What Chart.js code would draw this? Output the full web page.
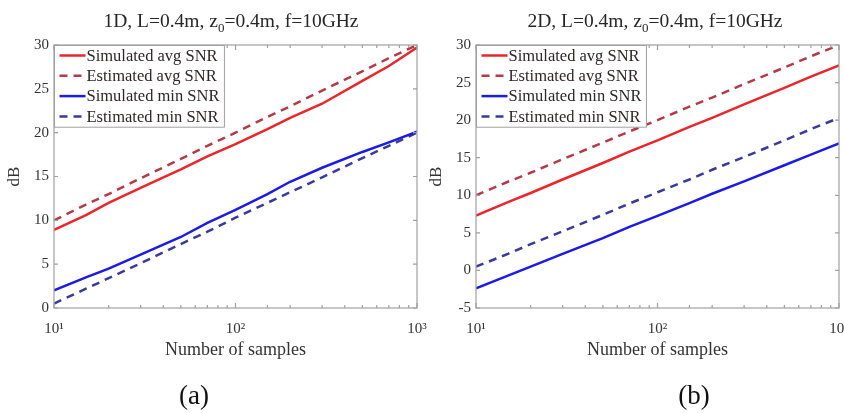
<!DOCTYPE html>
<html>
<head>
<meta charset="utf-8">
<script src="https://cdn.jsdelivr.net/npm/chart.js@4.4.1/dist/chart.umd.min.js"></script>
<style>
  body { margin: 0; background: #fff; width: 844px; height: 413px; position: relative; overflow: hidden; font-family: "Liberation Serif", serif; color: #262626; }
  .panel { position: absolute; top: 0; height: 413px; }
  .title { position: absolute; top: 10px; font-size: 19.5px; line-height: 22px; white-space: nowrap; transform: translateX(-50%); }
  .title sub { font-size: 13px; vertical-align: -5px; line-height: 0; }
  .cap { position: absolute; top: 379px; font-size: 27px; line-height: 32px; white-space: nowrap; transform: translateX(-50%); color: #111; }
</style>
</head>
<body>
<div class="panel" style="left:0;width:432px"><canvas id="c1"></canvas></div>
<div class="panel" style="left:422px;width:422px"><canvas id="c2"></canvas></div>
<div class="title" style="left:231px">1D, L=0.4m, z<sub>0</sub>=0.4m, f=10GHz</div>
<div class="title" style="left:655px">2D, L=0.4m, z<sub>0</sub>=0.4m, f=10GHz</div>
<div class="cap" style="left:194px">(a)</div>
<div class="cap" style="left:694px">(b)</div>
<script>
// number of samples (x, log scale)
const samples = [10, 15, 20, 30, 50, 70, 100, 150, 200, 300, 500, 700, 1000];
const xTickValues = [10, 100, 1000];
const xTickLabels = ["10\u00b9", "10\u00b2", "10\u00b3"];
const seriesNames = ["Simulated avg SNR", "Estimated avg SNR", "Simulated min SNR", "Estimated min SNR"];

// (a) 1D
const simAvg1D = [8.9, 10.6, 12.0, 13.7, 15.8, 17.3, 18.7, 20.4, 21.7, 23.3, 25.9, 27.6, 29.7];
const estAvg1D = [10.0, 11.8, 13.0, 14.8, 17.0, 18.5, 20.0, 21.8, 23.0, 24.8, 27.0, 28.5, 30.0];
const simMin1D = [2.0, 3.5, 4.5, 6.1, 8.1, 9.7, 11.2, 13.0, 14.4, 16.0, 17.8, 18.9, 20.1];
const estMin1D = [0.5, 2.2, 3.4, 5.1, 7.3, 8.7, 10.3, 12.0, 13.2, 14.9, 17.1, 18.5, 20.0];

// (b) 2D
const simAvg2D = [7.3, 9.1, 10.3, 12.1, 14.3, 15.8, 17.3, 19.1, 20.3, 22.1, 24.3, 25.8, 27.3];
const estAvg2D = [10.0, 11.8, 13.0, 14.8, 17.0, 18.5, 20.0, 21.8, 23.0, 24.8, 27.0, 28.5, 30.0];
const simMin2D = [-2.4, -0.7, 0.5, 2.2, 4.3, 5.8, 7.25, 8.95, 10.2, 11.85, 14.0, 15.4, 16.9];
const estMin2D = [0.5, 2.2, 3.5, 5.2, 7.4, 8.9, 10.4, 12.1, 13.4, 15.1, 17.3, 18.8, 20.3];

const RED = "#e8262c", RED_D = "#b43a48", BLUE = "#1c1ce0", BLUE_D = "#3a3a9c";
const GRAY = "#a0a0a0";

// axes box with inward ticks on all four sides
const frame = {
  id: "frame",
  afterDatasetsDraw(chart) {
    const { ctx, chartArea: a, scales: { x, y } } = chart;
    ctx.save();
    ctx.strokeStyle = GRAY;
    ctx.lineWidth = 1.2;
    ctx.strokeRect(a.left, a.top, a.right - a.left, a.bottom - a.top);
    ctx.beginPath();
    x.ticks.forEach(t => {
      const px = x.getPixelForValue(t.value);
      const len = xTickValues.includes(t.value) ? 5 : 3;
      ctx.moveTo(px, a.bottom); ctx.lineTo(px, a.bottom - len);
      ctx.moveTo(px, a.top); ctx.lineTo(px, a.top + len);
    });
    y.ticks.forEach(t => {
      const py = y.getPixelForValue(t.value);
      ctx.moveTo(a.left, py); ctx.lineTo(a.left + 4, py);
      ctx.moveTo(a.right, py); ctx.lineTo(a.right - 4, py);
    });
    ctx.stroke();
    ctx.restore();
  }
};

// legend drawn inside the plot, upper left
const boxLegend = {
  id: "boxLegend",
  afterDraw(chart) {
    const { ctx, chartArea: a } = chart;
    const sets = chart.data.datasets;
    ctx.save();
    ctx.font = '16.5px "Liberation Serif"';
    const textW = Math.max(...sets.map(d => ctx.measureText(d.label).width));
    const x0 = a.left + 0.5, y0 = a.top + 0.5, rowH = 20.3;
    const w = 32 + textW + 5, h = rowH * sets.length + 0.5;
    ctx.fillStyle = "#fff";
    ctx.fillRect(x0, y0, w, h);
    ctx.strokeStyle = GRAY;
    ctx.lineWidth = 1;
    ctx.strokeRect(x0, y0, w, h);
    sets.forEach((d, i) => {
      const yy = y0 + 10 + i * rowH;
      ctx.strokeStyle = d.borderColor;
      ctx.lineWidth = d.borderWidth;
      ctx.setLineDash(d.borderDash || []);
      ctx.beginPath();
      ctx.moveTo(x0 + 5, yy);
      ctx.lineTo(x0 + 31, yy);
      ctx.stroke();
      ctx.setLineDash([]);
      ctx.fillStyle = "#2e2626";
      ctx.textBaseline = "middle";
      ctx.fillText(d.label, x0 + 32, yy + 1);
    });
    ctx.restore();
  }
};

function ds(label, values, color, dashed) {
  return {
    label,
    data: samples.map((n, i) => ({ x: n, y: values[i] })),
    borderColor: color,
    backgroundColor: color,
    borderWidth: 2.5,
    borderDash: dashed ? [8, 6] : [],
    pointRadius: 0,
    tension: 0,
    fill: false
  };
}

function makeChart(id, series, yMin, yMax, padRight) {
  new Chart(document.getElementById(id), {
    type: "line",
    data: {
      datasets: [
        ds(seriesNames[0], series[0], RED, false),
        ds(seriesNames[1], series[1], RED_D, true),
        ds(seriesNames[2], series[2], BLUE, false),
        ds(seriesNames[3], series[3], BLUE_D, true)
      ]
    },
    options: {
      responsive: true,
      maintainAspectRatio: false,
      animation: false,
      layout: { padding: { left: 0, right: padRight, top: 45, bottom: 48 } },
      plugins: { legend: { display: false }, tooltip: { enabled: false } },
      scales: {
        x: {
          type: "logarithmic",
          min: 10,
          max: 1000,
          grid: { display: false, drawTicks: false },
          border: { display: false },
          ticks: {
            autoSkip: false,
            maxRotation: 0,
            padding: 12,
            color: "#333",
            font: { family: "Liberation Serif", size: 15 },
            callback: v => {
              const k = xTickValues.indexOf(v);
              return k >= 0 ? xTickLabels[k] : "";
            }
          },
          title: {
            display: true,
            text: "Number of samples",
            color: "#333",
            font: { family: "Liberation Serif", size: 18 }
          },
          afterFit: s => { s.height = 57; s.paddingLeft = 0; s.paddingRight = 0; }
        },
        y: {
          min: yMin,
          max: yMax,
          grid: { display: false, drawTicks: false },
          border: { display: false },
          ticks: {
            stepSize: 5,
            padding: 5,
            color: "#333",
            font: { family: "Liberation Serif", size: 15 }
          },
          title: {
            display: true,
            text: "dB",
            color: "#333",
            font: { family: "Liberation Serif", size: 17 }
          },
          afterFit: s => { s.width = 54; s.paddingTop = 0; s.paddingBottom = 0; }
        }
      }
    },
    plugins: [frame, boxLegend]
  });
}

makeChart("c1", [simAvg1D, estAvg1D, simMin1D, estMin1D], 0, 30, 15);
makeChart("c2", [simAvg2D, estAvg2D, simMin2D, estMin2D], -5, 30, 5);
</script>
</body>
</html>
